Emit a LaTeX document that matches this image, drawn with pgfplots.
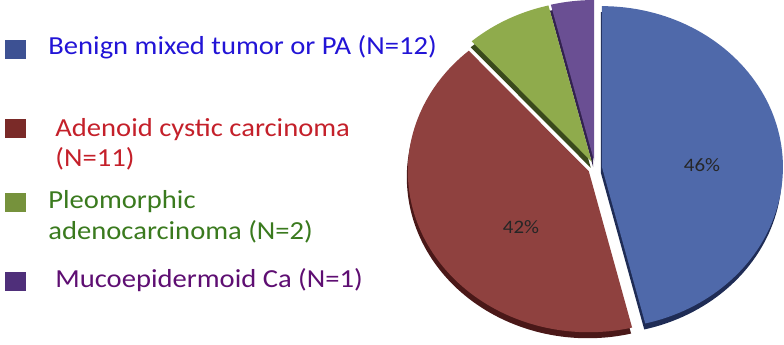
\documentclass[border=0pt]{standalone}
\usepackage{pgfplots}
\usepackage{pgfplotstable}
\pgfplotsset{compat=1.18}
\usepackage{fontspec}
\setmainfont[FakeStretch=1.1]{Carlito}

% slice faces, slice sides, legend keys, legend text
\definecolor{sliceA}{HTML}{4F69AA}\definecolor{sideA}{HTML}{1F2C55}
\definecolor{sliceB}{HTML}{8F413F}\definecolor{sideB}{HTML}{4A1818}
\definecolor{sliceC}{HTML}{8FAB4C}\definecolor{sideC}{HTML}{3A4A1C}
\definecolor{sliceD}{HTML}{6A4F93}\definecolor{sideD}{HTML}{33224F}
\definecolor{keyA}{HTML}{3D5193}\definecolor{keyB}{HTML}{7A2A28}
\definecolor{keyC}{HTML}{76923C}\definecolor{keyD}{HTML}{4F2F7A}
\definecolor{txtA}{HTML}{2214D6}\definecolor{txtB}{HTML}{C4202A}
\definecolor{txtC}{HTML}{3A7A1E}\definecolor{txtD}{HTML}{5E0E72}

% number of cases per tumour type
\pgfplotstableread{
type n
PA   12
ACC  11
PAC  2
MEC  1
}\piedata

% pie geometry (axis units)
\def\cx{595}\def\cy{176}\def\rx{181}\def\ry{161}\def\gap{7}\def\depth{6}

% one exploded slice: #1 start angle, #2 end angle, #3 face colour, #4 side colour
\newcommand\pieside[4]{%
  \pgfmathsetmacro\pmid{(#1+#2)/2}%
  \pgfmathsetmacro\ox{\cx+\gap*cos(\pmid)-1}%
  \pgfmathsetmacro\oy{\cy+\gap*sin(\pmid)-\depth}%
  \edef\tmp{\noexpand\addplot[fill=#4,draw=none,domain=#2:#1,samples=90,variable=\noexpand\t]
    ({\ox+\rx*cos(\noexpand\t)},{\oy+\ry*sin(\noexpand\t)}) -- (axis cs:\ox,\oy) -- cycle;}%
  \tmp}
\newcommand\pietop[4]{%
  \pgfmathsetmacro\pmid{(#1+#2)/2}%
  \pgfmathsetmacro\ox{\cx+\gap*cos(\pmid)}%
  \pgfmathsetmacro\oy{\cy+\gap*sin(\pmid)}%
  \edef\tmp{\noexpand\addplot[fill=#3,draw=none,domain=#2:#1,samples=90,variable=\noexpand\t]
    ({\ox+\rx*cos(\noexpand\t)},{\oy+\ry*sin(\noexpand\t)}) -- (axis cs:\ox,\oy) -- cycle;}%
  \tmp}

\begin{document}
\begin{tikzpicture}
\pgfplotstablegetelem{0}{n}\of\piedata\pgfmathsetmacro\nA{\pgfplotsretval}
\pgfplotstablegetelem{1}{n}\of\piedata\pgfmathsetmacro\nB{\pgfplotsretval}
\pgfplotstablegetelem{2}{n}\of\piedata\pgfmathsetmacro\nC{\pgfplotsretval}
\pgfplotstablegetelem{3}{n}\of\piedata\pgfmathsetmacro\nD{\pgfplotsretval}
\pgfmathsetmacro\total{\nA+\nB+\nC+\nD}
% clockwise from twelve o'clock
\pgfmathsetmacro\aA{90}
\pgfmathsetmacro\aB{\aA-360*\nA/\total}
\pgfmathsetmacro\aC{\aB-360*\nB/\total}
\pgfmathsetmacro\aD{\aC-360*\nC/\total}
\pgfmathsetmacro\aE{\aD-360*\nD/\total}
\pgfmathtruncatemacro\pA{round(100*\nA/\total)}
\pgfmathtruncatemacro\pB{round(100*\nB/\total)}
\begin{axis}[scale only axis, width=392pt, height=172pt,
  xmin=0, xmax=784, ymin=0, ymax=344, axis lines=none, clip=false]
  \path (axis cs:0,0) rectangle (axis cs:784,344);
  % side walls
  \pieside{\aD}{\aE}{sliceD}{sideD}
  \pieside{\aC}{\aD}{sliceC}{sideC}
  \pieside{\aA}{\aB}{sliceA}{sideA}
  \pieside{\aB}{\aC}{sliceB}{sideB}
  % top faces
  \pietop{\aD}{\aE}{sliceD}{sideD}
  \pietop{\aC}{\aD}{sliceC}{sideC}
  \pietop{\aA}{\aB}{sliceA}{sideA}
  \pietop{\aB}{\aC}{sliceB}{sideB}
  % percentage labels
  \node[font=\fontsize{9.5}{10}\selectfont, text=black!85] at (axis cs:702,179) {\pA\%};
  \node[font=\fontsize{9.5}{10}\selectfont, text=black!85] at (axis cs:521,117) {\pB\%};
  % legend
  \fill[keyA] (axis cs:5,285) rectangle (axis cs:26,304);
  \fill[keyB] (axis cs:5,206) rectangle (axis cs:26,225);
  \fill[keyC] (axis cs:5,132) rectangle (axis cs:26,151);
  \fill[keyD] (axis cs:5,53) rectangle (axis cs:26,72);
  \begin{scope}[every node/.style={anchor=base west, inner sep=0pt, font=\fontsize{13}{15}\selectfont}]
  \node[text=txtA] at (axis cs:48,289) {Benign mixed tumor or PA (N=12)};
  \node[text=txtB] at (axis cs:55,207.5) {Adenoid cystic carcinoma};
  \node[text=txtB] at (axis cs:55,177) {(N=11)};
  \node[text=txtC] at (axis cs:48,135.5) {Pleomorphic};
  \node[text=txtC] at (axis cs:48,104) {adenocarcinoma (N=2)};
  \node[text=txtD] at (axis cs:55,56) {Mucoepidermoid Ca (N=1)};
  \end{scope}
\end{axis}
\end{tikzpicture}
\end{document}
